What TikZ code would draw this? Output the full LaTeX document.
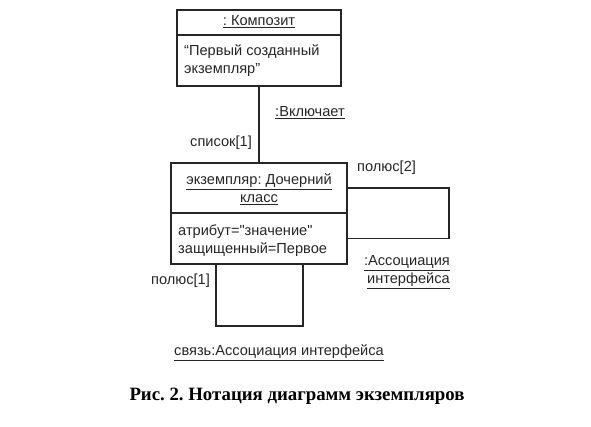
\documentclass[tikz,border=0pt]{standalone}
\usepackage{fontspec}
\setmainfont{Liberation Serif}
\newfontfamily\diagfont{Liberation Sans}
\frenchspacing
\begin{document}
\begin{tikzpicture}[x=1pt,y=-1pt,
  box/.style={draw=black!85,line width=1.1pt,inner sep=0pt,minimum width=#1},
  lbl/.style={font=\diagfont\fontsize{14.6}{18}\selectfont,text=black!85,inner sep=0pt},
  conn/.style={draw=black!85,line width=1.1pt}]
\useasboundingbox (0,0) rectangle (591,426);
% top object
\node[box=164pt,minimum height=25pt] (thead) at (259,22.5) {};
\node[box=164pt,minimum height=51pt] (tbody) at (259,60.5) {};
\node[lbl] (ttitle) at (259,22) {\underline{: Композит}};
\node[lbl,anchor=west,align=left] (ttext) at (184,61) {“Первый созданный\\экземпляр”};
% child object
\node[box=176pt,minimum height=50pt] (chead) at (259,188) {};
\node[box=176pt,minimum height=51pt] (cbody) at (259,238.5) {};
\node[lbl,align=center] (ctitle) at (259,189) {\underline{экземпляр: Дочерний}\\\underline{класс}};
\node[lbl,anchor=west,align=left] (ctext) at (178,240.5) {атрибут="значение"\\защищенный=Первое};
% composition link
\draw[conn] (tbody.south) -- (chead.north);
\node[lbl,anchor=west] (incl) at (275,113) {\underline{:Включает}};
\node[lbl,anchor=east] (list) at (252,143) {список[1]};
% right loop
\coordinate (rc) at (449,188);
\draw[conn] (chead.east) -- (rc) |- (cbody.east);
\node[lbl,anchor=west] (pol2) at (357,168) {полюс[2]};
\node[lbl,anchor=east,align=right] (assoc) at (450,272) {\underline{:Ассоциация}\\\underline{интерфейса}};
% bottom loop
\coordinate (bl) at (216,326);
\coordinate (br) at (303,326);
\draw[conn] (cbody.south -| bl) -- (bl) -- (br) -- (cbody.south -| br);
\node[lbl,anchor=east] (pol1) at (210,281) {полюс[1]};
\node[lbl] (link) at (279,353) {\underline{связь:Ассоциация интерфейса}};
% caption
\node[font=\fontsize{18.8}{22}\selectfont\bfseries,inner sep=0pt] (cap) at (297,396) {Рис. 2. Нотация диаграмм экземпляров};
\end{tikzpicture}
\end{document}
